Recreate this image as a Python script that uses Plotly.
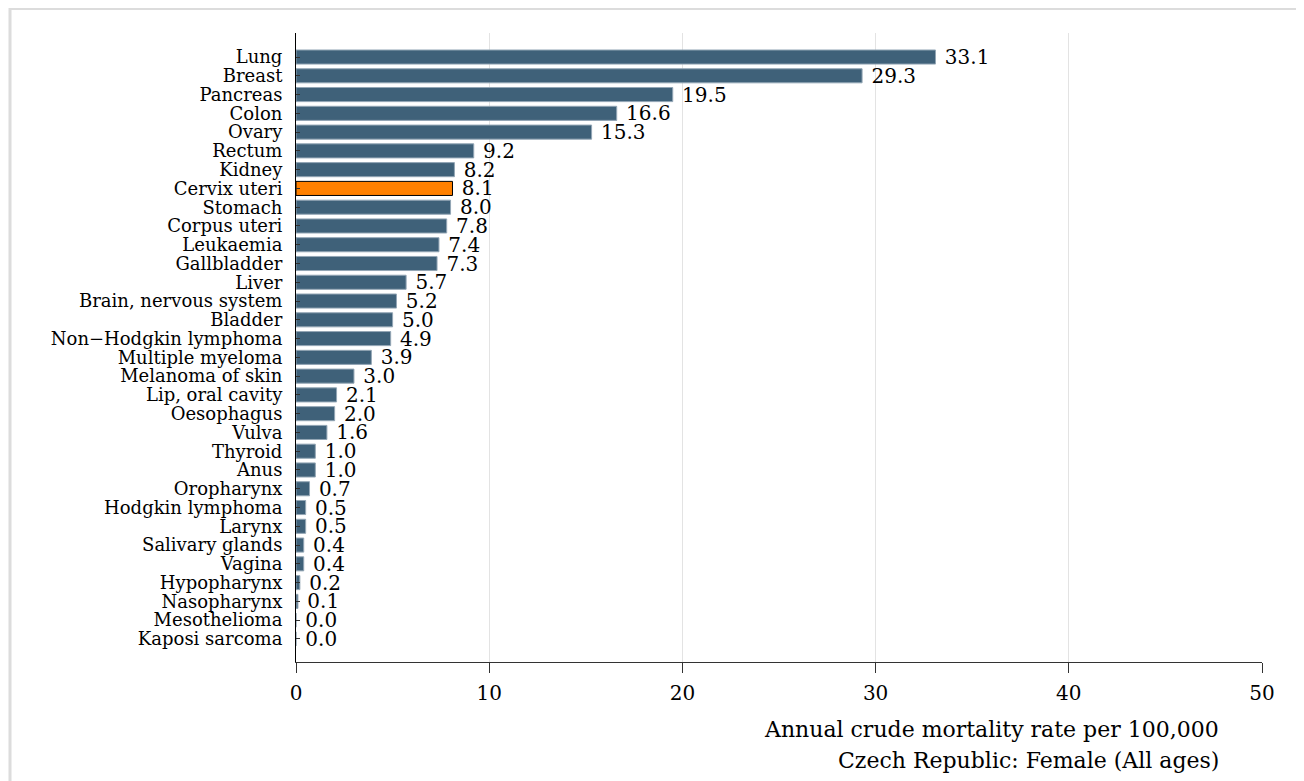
import plotly.graph_objects as go

categories = ["Lung", "Breast", "Pancreas", "Colon", "Ovary", "Rectum", "Kidney",
              "Cervix uteri", "Stomach", "Corpus uteri", "Leukaemia", "Gallbladder",
              "Liver", "Brain, nervous system", "Bladder", "Non\u2212Hodgkin lymphoma",
              "Multiple myeloma", "Melanoma of skin", "Lip, oral cavity", "Oesophagus",
              "Vulva", "Thyroid", "Anus", "Oropharynx", "Hodgkin lymphoma", "Larynx",
              "Salivary glands", "Vagina", "Hypopharynx", "Nasopharynx", "Mesothelioma",
              "Kaposi sarcoma"]
values = [33.1, 29.3, 19.5, 16.6, 15.3, 9.2, 8.2, 8.1, 8.0, 7.8, 7.4, 7.3, 5.7, 5.2,
          5.0, 4.9, 3.9, 3.0, 2.1, 2.0, 1.6, 1.0, 1.0, 0.7, 0.5, 0.5, 0.4, 0.4, 0.2,
          0.1, 0.0, 0.0]
highlight = "Cervix uteri"
x_ticks = [0, 10, 20, 30, 40, 50]
x_title_lines = ["Annual crude mortality rate per 100,000", "Czech Republic: Female (All ages)"]

FONT = "DejaVu Serif"
base_col = "#3f6179"
hi_col = "#ff8000"

colors = [hi_col if c == highlight else base_col for c in categories]
line_cols = ["#000000" if c == highlight else "#93a6b5" for c in categories]

fig = go.Figure()
fig.add_trace(go.Bar(
    x=values, y=categories, orientation="h",
    marker=dict(color=colors, line=dict(color=line_cols, width=1)),
    width=0.75,
    text=["\u00a0" + f"{v:.1f}" for v in values],
    textposition="outside",
    constraintext="none",
    textfont=dict(family=FONT, size=20, color="#000000"),
    cliponaxis=False,
    hoverinfo="skip",
))

# page is rendered with an 8px body offset
OFF = 8
W, H = 1296, 773
L, R, T, B = 296 - OFF, 42, 33 - OFF, 119
pw, ph = W - L - R, H - T - B

def px_x(p):
    return (p - OFF - L) / pw

def px_y(p):
    return (H - B - (p - OFF)) / ph

fig.update_layout(
    width=W, height=H,
    margin=dict(l=L, r=R, t=T, b=B),
    paper_bgcolor="white", plot_bgcolor="white",
    showlegend=False,
    font=dict(family=FONT, color="#000000"),
    xaxis=dict(
        range=[0, 50], tickvals=x_ticks,
        showgrid=True, gridcolor="#e3e3e3", gridwidth=1,
        showline=True, linecolor="#333333", linewidth=1,
        ticks="outside", ticklen=10, tickcolor="#333333",
        ticklabelstandoff=3,
        tickfont=dict(family=FONT, size=20, color="#000000"),
        zeroline=False,
    ),
    yaxis=dict(
        categoryorder="array", categoryarray=categories,
        tickmode="array", tickvals=categories, ticktext=categories,
        range=[31 + 1.23, -1.28],
        showline=True, linecolor="#000000", linewidth=1,
        ticks="inside", ticklen=4, tickcolor="#333333",
        ticklabelstandoff=9,
        tickfont=dict(family=FONT, size=18, color="#000000"),
        showgrid=False, zeroline=False,
    ),
)

fig.add_annotation(
    xref="paper", yref="paper", x=px_x(1221), y=px_y(729),
    xanchor="right", yanchor="middle", align="right", showarrow=False,
    text=x_title_lines[0], font=dict(family=FONT, size=22, color="#000000"),
)
fig.add_annotation(
    xref="paper", yref="paper", x=px_x(1221), y=px_y(760),
    xanchor="right", yanchor="middle", align="right", showarrow=False,
    text=x_title_lines[1], font=dict(family=FONT, size=22, color="#000000"),
)

fig.add_shape(
    type="rect", xref="paper", yref="paper",
    x0=px_x(10), x1=px_x(1301), y0=px_y(800), y1=px_y(8.5),
    line=dict(color="#dcdcdc", width=3), fillcolor="rgba(0,0,0,0)", layer="below",
)

fig.write_html("out.html")
